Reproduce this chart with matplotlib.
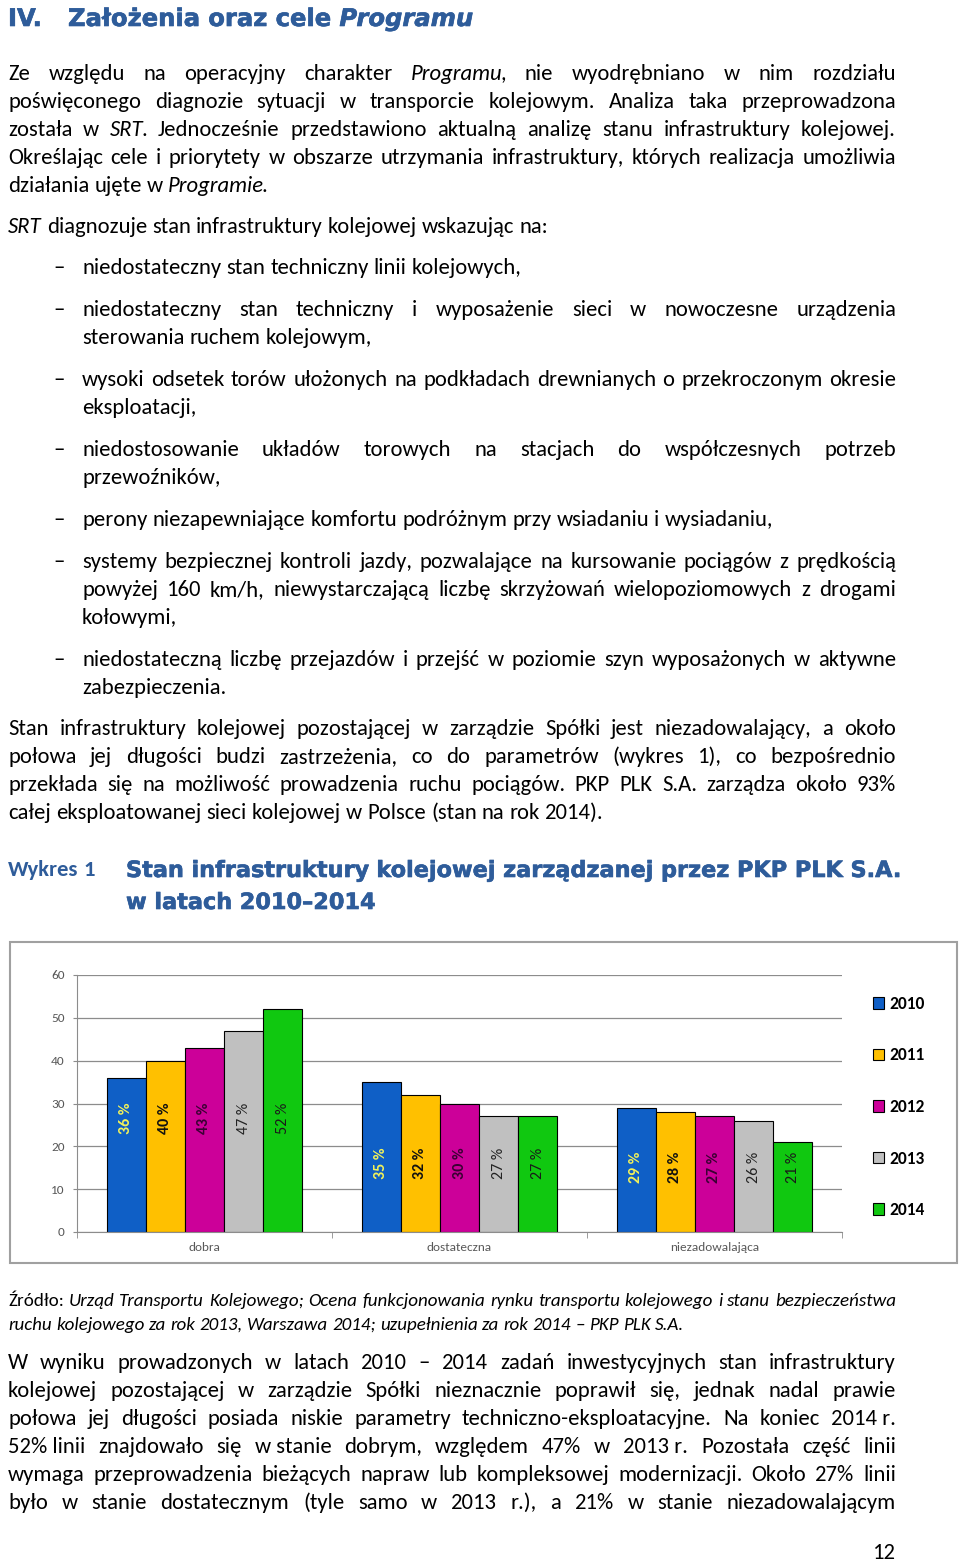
import matplotlib
matplotlib.use('Agg')
import matplotlib.pyplot as plt
import matplotlib.patheffects as pe
import numpy as np
from matplotlib import font_manager
from matplotlib.patches import Rectangle

W, H = 960, 1562

# chart data (wykres 1)
categories = ['dobra', 'dostateczna', 'niezadowalająca']
years = ['2010', '2011', '2012', '2013', '2014']
dobra = [36, 40, 43, 47, 52]
dostateczna = [35, 32, 30, 27, 27]
niezadowalajaca = [29, 28, 27, 26, 21]

colors = ['#0f5fc6', '#ffc000', '#cc0099', '#c0c0c0', '#10c810']
label_colors = ['#f2f25a', '#111111', '#3a0033', '#222222', '#1a1a1a']
label_bold = [True, True, True, False, False]
label_y = [26.5, 16, 15]   # where the rotated value labels sit, per category

BLUE = '#2e5c9a'

# page text, '*' toggles italics, '~' is a non-breaking space
para1 = [
    'Ze względu na operacyjny charakter *Programu*, nie wyodrębniano w nim rozdziału',
    'poświęconego diagnozie sytuacji w transporcie kolejowym. Analiza taka przeprowadzona',
    'została w *SRT*. Jednocześnie przedstawiono aktualną analizę stanu infrastruktury kolejowej.',
    'Określając cele i priorytety w obszarze utrzymania infrastruktury, których realizacja umożliwia',
    'działania ujęte w *Programie*.',
]
para2 = '*SRT* diagnozuje stan infrastruktury kolejowej wskazując na:'
bullets = [
    (274, ['niedostateczny stan techniczny linii kolejowych,']),
    (316, ['niedostateczny stan techniczny i wyposażenie sieci w nowoczesne urządzenia',
           'sterowania ruchem kolejowym,']),
    (386, ['wysoki odsetek torów ułożonych na podkładach drewnianych o przekroczonym okresie',
           'eksploatacji,']),
    (456, ['niedostosowanie układów torowych na stacjach do współczesnych potrzeb',
           'przewoźników,']),
    (526, ['perony niezapewniające komfortu podróżnym przy wsiadaniu i wysiadaniu,']),
    (568, ['systemy bezpiecznej kontroli jazdy, pozwalające na kursowanie pociągów z prędkością',
           'powyżej 160 km/h, niewystarczającą liczbę skrzyżowań wielopoziomowych z drogami',
           'kołowymi,']),
    (666, ['niedostateczną liczbę przejazdów i przejść w poziomie szyn wyposażonych w aktywne',
           'zabezpieczenia.']),
]
para3 = [
    'Stan infrastruktury kolejowej pozostającej w zarządzie Spółki jest niezadowalający, a około',
    'połowa jej długości budzi zastrzeżenia, co do parametrów (wykres 1), co bezpośrednio',
    'przekłada się na możliwość prowadzenia ruchu pociągów. PKP PLK S.A. zarządza około 93%',
    'całej eksploatowanej sieci kolejowej w Polsce (stan na rok 2014).',
]
source = [
    'Źródło: *Urząd Transportu Kolejowego; Ocena funkcjonowania rynku transportu kolejowego i stanu bezpieczeństwa*',
    '*ruchu kolejowego za rok 2013, Warszawa 2014; uzupełnienia za rok 2014 – PKP PLK S.A.*',
]
para4 = [
    'W wyniku prowadzonych w latach 2010 – 2014 zadań inwestycyjnych stan infrastruktury',
    'kolejowej pozostającej w zarządzie Spółki nieznacznie poprawił się, jednak nadal prawie',
    'połowa jej długości posiada niskie parametry techniczno-eksploatacyjne. Na koniec 2014~r.',
    '52%~linii znajdowało się w~stanie dobrym, względem 47% w 2013~r. Pozostała część linii',
    'wymaga przeprowadzenia bieżących napraw lub kompleksowej modernizacji. Około 27% linii',
    'było w stanie dostatecznym (tyle samo w 2013 r.), a 21% w stanie niezadowalającym',
]

names = {f.name for f in font_manager.fontManager.ttflist}
BODY = next(f for f in ['Carlito', 'Lato', 'Open Sans', 'DejaVu Sans'] if f in names)
HEAD = 'DejaVu Sans'
HEAVY = [pe.withStroke(linewidth=0.45, foreground=BLUE)]

fig = plt.figure(figsize=(W / 100, H / 100), dpi=100)
fig.patch.set_facecolor('white')
rend = fig.canvas.get_renderer()


def tw(s, **kw):
    t = fig.text(0, 0, s, **kw)
    w = t.get_window_extent(rend).width
    t.remove()
    return w


def adv(s, **kw):
    # advance width, bracketed so side bearings are counted
    return tw('|' + s + '|', **kw) - tw('||', **kw)


def runs(text):
    words, ital = [], False
    for w in text.split(' '):
        segs = []
        for i, part in enumerate(w.split('*')):
            if i > 0:
                ital = not ital
            if part:
                segs.append((part.replace('~', '\u00a0'), ital))
        words.append(segs)
    return words


def measure(text, size, family=BODY, weight='normal'):
    words = runs(text)
    ws = []
    for w in words:
        wl = []
        for k, (s, it) in enumerate(w):
            a = adv(s, fontsize=size, family=family, weight=weight,
                    style='italic' if it else 'normal')
            if it and k < len(w) - 1:
                a -= 0.1 * size * 100 / 72   # tuck roman punctuation after italics
            wl.append(a)
        ws.append(wl)
    sp = adv(' ', fontsize=size, family=family, weight=weight)
    return words, ws, sp


def natural(text, size, family=BODY, weight='normal'):
    words, ws, sp = measure(text, size, family, weight)
    return sum(map(sum, ws)) + sp * (len(words) - 1)


def line(text, y, x0=8, x1=896, justify=False, size=None, family=BODY,
         weight='normal', color='black', effects=None):
    words, ws, sp = measure(text, size, family, weight)
    total = sum(map(sum, ws))
    gap = (x1 - x0 - total) / (len(words) - 1) if justify and len(words) > 1 else sp
    x = x0
    for w, wl in zip(words, ws):
        for (s, it), sw in zip(w, wl):
            fig.text(x / W, 1 - y / H, s, fontsize=size, family=family, weight=weight,
                     style='italic' if it else 'normal', color=color,
                     ha='left', va='baseline', path_effects=effects)
            x += sw
        x += gap


def block(lines, y0, x0=8, size=None, step=28, last_just=False):
    for i, t in enumerate(lines):
        just = last_just or i < len(lines) - 1
        line(t, y0 + i * step, x0=x0, justify=just, size=size)


# font sizes fitted to the widths on the page
FS = 10 * 543 / natural(para2, 10)
FS_SRC = 10 * 676 / natural(source[1], 10)
FS_HEAD = 10 * 407 / natural('Założenia oraz cele *Programu*', 10, HEAD, 'bold')
FS_TITLE = 10 * 777 / natural('Stan infrastruktury kolejowej zarządzanej przez PKP PLK S.A.', 10, HEAD, 'bold')
FS_WYK = 10 * 87 / natural('Wykres 1', 10, BODY, 'bold')

# heading
line('IV.', 26, x0=8, size=FS_HEAD, family=HEAD, weight='bold', color=BLUE, effects=HEAVY)
line('Założenia oraz cele *Programu*', 26, x0=68, size=FS_HEAD, family=HEAD,
     weight='bold', color=BLUE, effects=HEAVY)

block(para1, 80, size=FS)
line(para2, 233, size=FS)
for y0, lines in bullets:
    line('–', y0, x0=53, size=FS)
    block(lines, y0, x0=82, size=FS)
block(para3, 735, size=FS)

# chart title
line('Wykres 1', 876, x0=8, size=FS_WYK, family=BODY, weight='bold', color=BLUE)
line('Stan infrastruktury kolejowej zarządzanej przez PKP PLK S.A.', 877, x0=126,
     size=FS_TITLE, family=HEAD, weight='bold', color=BLUE, effects=HEAVY)
line('w latach 2010–2014', 909, x0=126, size=FS_TITLE, family=HEAD, weight='bold',
     color=BLUE, effects=HEAVY)

# chart
fig.add_artist(Rectangle((10 / W, 1 - 1263 / H), 947 / W, 321 / H, transform=fig.transFigure,
                         fill=False, edgecolor='#a0a0a0', lw=1.5))
ax = fig.add_axes([77 / W, 1 - 1232 / H, 765 / W, 257 / H])
vals = np.array([dobra, dostateczna, niezadowalajaca])
x = np.arange(len(categories))
bw = 0.153
for i, yr in enumerate(years):
    pos = x + (i - 2) * bw
    ax.bar(pos, vals[:, i], bw, color=colors[i], edgecolor='black', linewidth=0.8, label=yr)
    for j in range(len(categories)):
        ax.text(pos[j], label_y[j], f'{vals[j, i]} %', rotation=90, ha='center', va='center',
                fontsize=11.5, family=BODY, color=label_colors[i],
                fontweight='bold' if label_bold[i] else 'normal')

ax.set_xlim(-0.5, 2.5)
ax.set_ylim(0, 60)
ax.set_yticks(range(0, 61, 10))
ax.set_axisbelow(True)
ax.grid(axis='y', color='#8c8c8c', lw=0.9)
for s in ['top', 'right']:
    ax.spines[s].set_visible(False)
for s in ['left', 'bottom']:
    ax.spines[s].set_color('#8c8c8c')
ax.set_xticks(x, categories)
ax.set_xticks([-0.5, 0.5, 1.5, 2.5], minor=True)
ax.tick_params(axis='x', which='major', length=0, pad=7, labelsize=9.5, labelcolor='#595959')
ax.tick_params(axis='x', which='minor', length=4, color='#8c8c8c')
ax.tick_params(axis='y', length=3, color='#8c8c8c', pad=6, labelsize=9.5, labelcolor='#595959')
for t in ax.get_xticklabels() + ax.get_yticklabels():
    t.set_family(BODY)

h, l = ax.get_legend_handles_labels()
fig.legend(h, l, loc='center left', bbox_to_anchor=(873 / W, 1 - 1107 / H), frameon=False,
           prop=dict(family=BODY, weight='bold', size=12.5), handlelength=0.65, handleheight=0.65,
           handletextpad=0.3, labelspacing=2.05, borderpad=0, borderaxespad=0)

# source and last paragraph
line(source[0], 1306, justify=True, size=FS_SRC)
line(source[1], 1330, size=FS_SRC)
block(para4, 1369, size=FS, last_just=True)

fig.text(896 / W, 1 - 1559 / H, '12', fontsize=FS, family=BODY, ha='right', va='baseline')

fig.savefig('out.png', dpi=100)
